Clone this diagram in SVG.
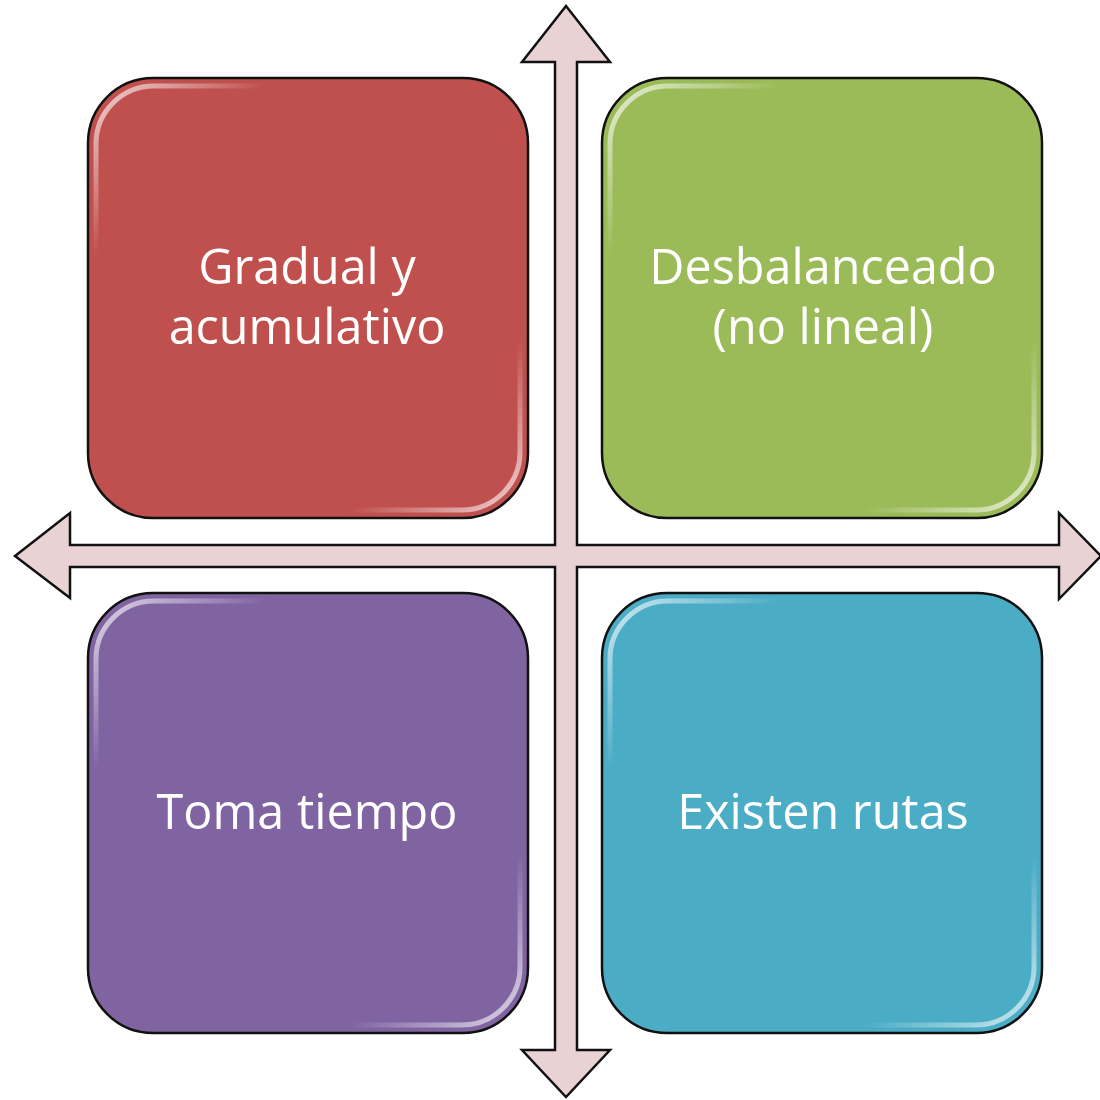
<svg xmlns="http://www.w3.org/2000/svg" width="1100" height="1100" viewBox="0 0 1100 1100">
<style>
.box{stroke:#111;stroke-width:2.5}
.hl{fill:none;stroke:url(#hl);stroke-width:5}
.lbl{font-family:"Open Sans","Liberation Sans",sans-serif;font-size:48.5px;fill:#fff;text-anchor:middle}
.cross{fill:#E8D2D3;stroke:#111;stroke-width:2.5;stroke-linejoin:miter}
</style>
<defs>
<linearGradient id="hl" x1="0" y1="0" x2="1" y2="1">
<stop offset="0" stop-color="#fff" stop-opacity="0.75"/>
<stop offset="0.2" stop-color="#fff" stop-opacity="0"/>
<stop offset="0.8" stop-color="#fff" stop-opacity="0"/>
<stop offset="1" stop-color="#fff" stop-opacity="0.75"/>
</linearGradient>
</defs>
<rect width="1100" height="1100" fill="#fff"/>
<g id="connectors">
<path class="cross" d="M566,6 L610,62 L577,62 L577,545 L1059,545 L1059,513 L1101,556 L1059,599 L1059,567 L577,567 L577,1050 L610,1050 L566,1097 L522,1050 L555,1050 L555,567 L70,567 L70,598 L15,556 L70,513 L70,545 L555,545 L555,62 L522,62 Z"/>
</g>
<g id="node-gradual">
<rect class="box" x="88" y="78" width="440" height="440" rx="65" fill="#C0504D"/>
<rect class="hl" x="96" y="86" width="424" height="424" rx="58"/>
<text class="lbl" x="307" y="284">Gradual y</text>
<text class="lbl" x="307" y="344">acumulativo</text>
</g>
<g id="node-desbalanceado">
<rect class="box" x="602" y="78" width="440" height="440" rx="65" fill="#9BBB59"/>
<rect class="hl" x="610" y="86" width="424" height="424" rx="58"/>
<text class="lbl" x="823" y="284">Desbalanceado</text>
<text class="lbl" x="823" y="344">(no lineal)</text>
</g>
<g id="node-toma">
<rect class="box" x="88" y="593" width="440" height="440" rx="65" fill="#8064A2"/>
<rect class="hl" x="96" y="601" width="424" height="424" rx="58"/>
<text class="lbl" x="307" y="829">Toma tiempo</text>
</g>
<g id="node-existen">
<rect class="box" x="602" y="593" width="440" height="440" rx="65" fill="#4BACC6"/>
<rect class="hl" x="610" y="601" width="424" height="424" rx="58"/>
<text class="lbl" x="823" y="829">Existen rutas</text>
</g>
</svg>
